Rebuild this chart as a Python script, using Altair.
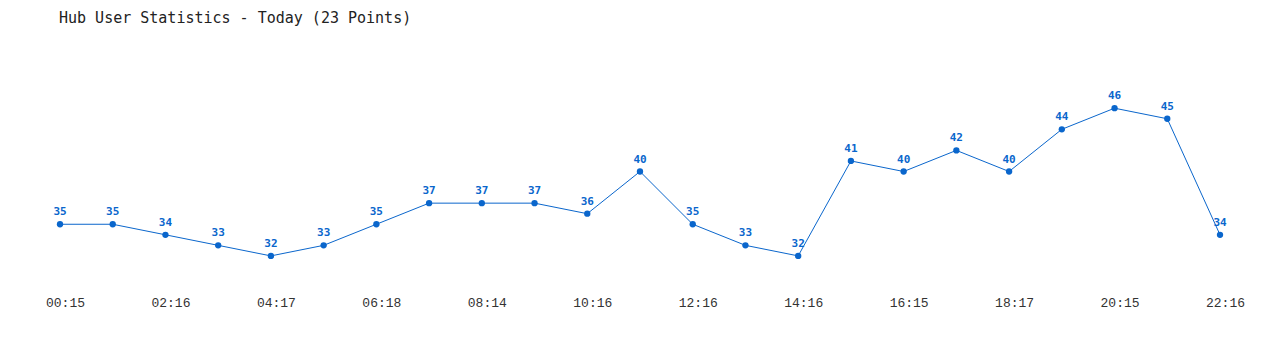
import altair as alt
import pandas as pd

values = [35, 35, 34, 33, 32, 33, 35, 37, 37, 37, 36, 40, 35, 33, 32, 41, 40, 42, 40, 44, 46, 45, 34]
tick_labels = ["00:15", "02:16", "04:17", "06:18", "08:14", "10:16",
               "12:16", "14:16", "16:15", "18:17", "20:15", "22:16"]

df = pd.DataFrame({"idx": list(range(len(values))), "users": values})

label_expr = "[" + ",".join(f"'{t}'" for t in tick_labels) + "][floor(datum.value / 2)]"

x = alt.X("idx:Q",
          scale=alt.Scale(domain=[0, len(values) - 1], nice=False, zero=False),
          axis=alt.Axis(values=list(range(0, len(values), 2)), labelExpr=label_expr,
                        title=None, domain=False, ticks=False, grid=False,
                        labelFont="Liberation Mono", labelFontSize=13, labelColor="#333333",
                        labelPadding=19, labelOffset=5, labelFlush=False,
                        labelOverlap=False, labelBound=False))
y = alt.Y("users:Q", scale=alt.Scale(domain=[30, 50], nice=False, zero=False), axis=None)

base = alt.Chart(df).encode(x=x, y=y)
color = "#0a66cc"
line = base.mark_line(color=color, strokeWidth=1)
pts = base.mark_circle(color=color, size=40, opacity=1)
txt = base.mark_text(color=color, dy=-12, font="DejaVu Sans Mono", fontWeight="bold",
                     fontSize=11).encode(text="users:Q")

chart = (line + pts + txt).properties(
    width=1160, height=211,
    title=alt.TitleParams("Hub User Statistics - Today (23 Points)", anchor="start",
                          frame="group", dx=-1,
                          font="DejaVu Sans Mono", fontSize=15, fontWeight="normal",
                          color="#222222", offset=40),
    autosize=alt.AutoSizeParams(type="none"),
    padding={"left": 60, "top": 66, "right": 60, "bottom": 73},
).configure_view(stroke=None)

chart.save("out.html", embed_options={"renderer": "svg", "actions": False})
